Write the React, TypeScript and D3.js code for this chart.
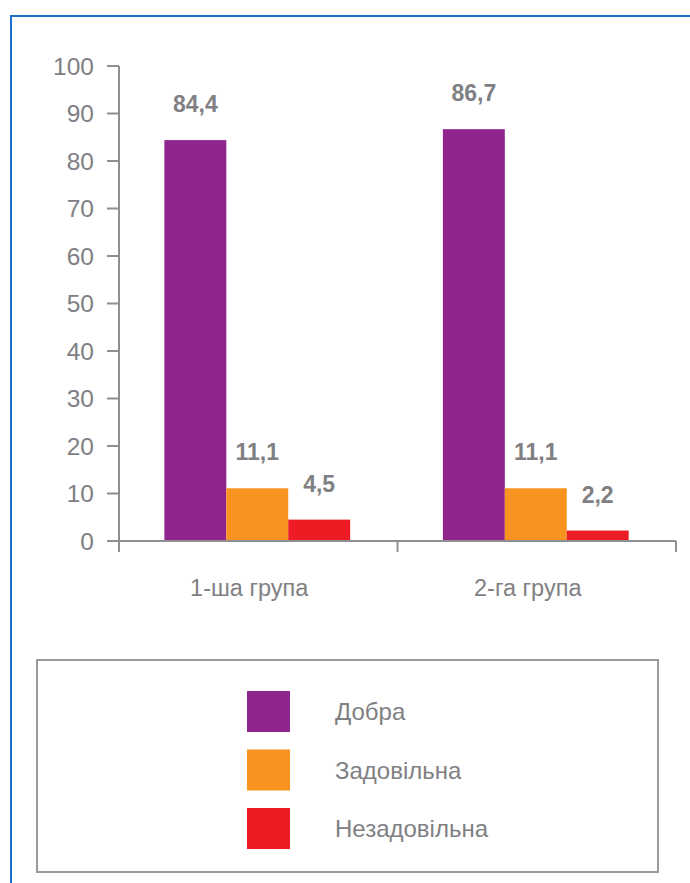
import React from "react";
import * as d3 from "d3";

const categories = ["1-ша група", "2-га група"];
const seriesNames = ["Добра", "Задовільна", "Незадовільна"];
const dobra = [84.4, 86.7];
const zadovilna = [11.1, 11.1];
const nezadovilna = [4.5, 2.2];
const yTicks = [0, 10, 20, 30, 40, 50, 60, 70, 80, 90, 100];
const colors = ["#8e248c", "#f7931e", "#ed1c24"];

const W = 690;
const H = 883;
const FONT = "'Liberation Sans', Arial, sans-serif";
const GRAY = "#808083";
const AXIS = "#8e8e93";

export default function App() {
  const series = [dobra, zadovilna, nezadovilna];
  const x0 = d3.scaleBand<string>().domain(categories).range([119, 676]).paddingInner(0).paddingOuter(0);
  const bw = x0.bandwidth();
  const x1 = d3.scaleBand<string>().domain(seriesNames).range([bw * 0.163, bw * 0.83]).paddingInner(0);
  const y = d3.scaleLinear().domain([0, 100]).range([541, 66]);
  const fmt = (v: number) => v.toFixed(1).replace(".", ",");

  return (
    <svg width={W} height={H} style={{ position: "absolute", left: 0, top: 0 }} fontFamily={FONT}>
      <rect x={0} y={0} width={W} height={H} fill="#fff" />
      <rect x={11} y={16} width={W + 20} height={H + 20} fill="none" stroke="#1c6dc7" strokeWidth={2} />

      {/* bars */}
      {categories.map((c, ci) => (
        <g key={c} transform={`translate(${x0(c)},0)`}>
          {seriesNames.map((s, si) => {
            const v = series[si][ci];
            return (
              <rect key={s} x={x1(s)} y={y(v)} width={x1.bandwidth()} height={y(0) - y(v)} fill={colors[si]} />
            );
          })}
          {seriesNames.map((s, si) => {
            const v = series[si][ci];
            return (
              <text key={s + "l"} x={(x1(s) as number) + x1.bandwidth() / 2} y={y(v) - 28} textAnchor="middle"
                fontSize={23} fontWeight="bold" fill={GRAY}>
                {fmt(v)}
              </text>
            );
          })}
        </g>
      ))}

      {/* y axis */}
      <line x1={119} x2={119} y1={y(100)} y2={y(0) + 11} stroke={AXIS} strokeWidth={2} />
      {yTicks.map((t) => (
        <g key={t}>
          <line x1={107} x2={119} y1={y(t)} y2={y(t)} stroke={AXIS} strokeWidth={2} />
          <text x={94} y={y(t)} dy="0.36em" textAnchor="end" fontSize={24.5} fill={GRAY}>
            {t}
          </text>
        </g>
      ))}

      {/* x axis */}
      <line x1={119} x2={676} y1={y(0)} y2={y(0)} stroke={AXIS} strokeWidth={2} />
      {[...categories.map((c) => x0(c) as number), 676].map((px, i) => (
        <line key={i} x1={px} x2={px} y1={y(0)} y2={y(0) + 11} stroke={AXIS} strokeWidth={2} />
      ))}
      {categories.map((c) => (
        <text key={c} x={(x0(c) as number) + bw / 2 - 9} y={596} textAnchor="middle" fontSize={23.5} fill={GRAY}>
          {c}
        </text>
      ))}

      {/* legend */}
      <rect x={37} y={660} width={621} height={212} fill="#fff" stroke="#9b9b9f" strokeWidth={2} />
      {seriesNames.map((s, i) => (
        <g key={s} transform={`translate(247,${691 + i * 58.5})`}>
          <rect x={0} y={0} width={43} height={41} fill={colors[i]} />
          <text x={88} y={20.5} dy="0.36em" fontSize={24} fill={GRAY}>
            {s}
          </text>
        </g>
      ))}
    </svg>
  );
}
